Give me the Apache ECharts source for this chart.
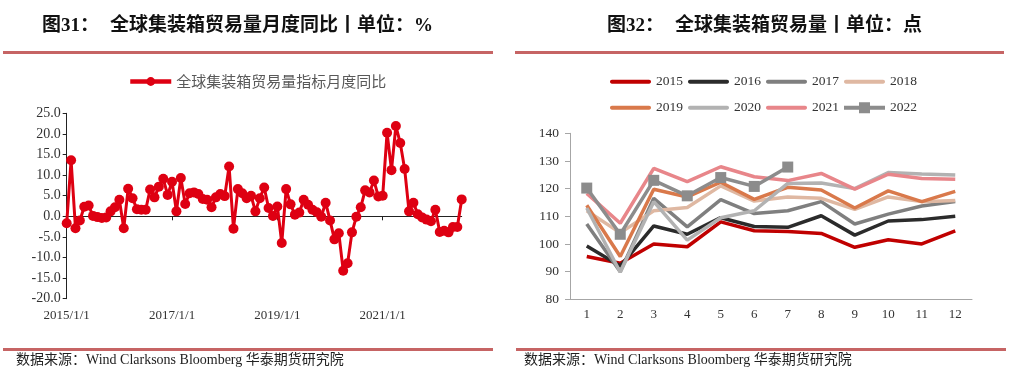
<!DOCTYPE html>
<html>
<head>
<meta charset="utf-8">
<script src="https://cdn.jsdelivr.net/npm/echarts@6/dist/echarts.min.js"></script>
<style>html,body{margin:0;padding:0;background:#fff}#main{width:1010px;height:377px}</style>
</head>
<body>
<div id="main"></div>
<script>
// 月份 2015/1/1 ~ 2022/7/1
var months=[];
for(var y=2015;y<=2022;y++){for(var m=1;m<=12;m++){if(y==2022&&m>7)break;months.push(y+'/'+m+'/1');}}
var yoyName='全球集装箱贸易量指标月度同比';
var yoy=[
-1.7,13.6,-2.9,-1.0,2.3,2.6,0.1,-0.2,-0.4,-0.3,
1.2,2.2,4.0,-2.9,6.7,4.4,1.7,1.6,1.6,6.5,
4.6,7.2,9.1,5.2,8.4,1.2,9.3,3.0,5.6,5.8,
5.4,4.2,4.0,2.2,4.6,5.4,4.9,12.1,-3.0,6.6,
5.6,4.4,5.0,1.2,4.4,7.0,2.0,0.1,2.4,-6.5,
6.6,2.9,0.4,0.9,4.0,2.8,1.6,1.0,-0.1,3.3,
-1.0,-5.6,-4.1,-13.2,-11.4,-3.9,-0.1,2.2,6.3,5.8,
8.7,4.8,5.0,20.3,11.2,21.9,17.8,11.5,1.2,3.3,
0.5,-0.3,-0.8,-1.2,1.6,-3.8,-3.5,-3.9,-2.6,-2.6,
4.1];
var yoyTicks=[-20,25,5];

var monthNo=['1','2','3','4','5','6','7','8','9','10','11','12'];
var years=['2015','2016','2017','2018','2019','2020','2021','2022'];
var v2015=[95.5,93.0,100.0,99.0,108.0,104.8,104.5,103.8,98.8,101.5,100.0,104.7];
var v2016=[99.3,92.0,106.5,103.5,109.5,106.3,106.0,110.2,103.2,108.3,108.8,110.0];
var v2017=[107.2,90.0,116.5,106.2,116.0,111.0,112.0,115.3,107.2,110.8,113.7,115.3];
var v2018=[112.0,104.0,112.0,113.2,121.0,115.5,117.0,116.5,112.5,117.0,115.3,115.7];
var v2019=[114.0,95.5,119.8,117.0,122.3,116.1,120.5,119.5,113.0,119.2,115.3,119.0];
var v2020=[113.0,89.8,115.3,101.4,109.5,112.0,121.9,122.0,120.0,125.8,125.3,124.9];
var v2021=[118.3,107.5,127.3,122.5,127.9,124.3,122.9,125.5,119.8,125.2,123.7,123.4];
var v2022=[120.2,103.5,123.0,117.4,124.0,120.8,127.8];
var volTicks=[80,140,10];

var yearData=[v2015,v2016,v2017,v2018,v2019,v2020,v2021,v2022];
var yearColors=['#c00000','#2b2b2b','#7f7f7f','#dfb8a2','#d9794b','#b2b2b2','#e8868a','#8c8c8c'];

var serif="'Liberation Serif','Noto Sans CJK SC'";
var ruleColor='#c66464';
// 图例图标：粗线 / 粗线+方块
var lineIcon='path://M2,0H39C41.7,0 41.7,4 39,4H2C-0.7,4 -0.7,0 2,0Z';
var squareIcon='path://M0,3.5H15V0H26V3.5H41V7.5H26V11H15V7.5H0Z';
var myChart=echarts.init(document.getElementById('main'));

var volSeries=years.map(function(y,i){
  return {
    name:y,type:'line',xAxisIndex:2,yAxisIndex:1,data:yearData[i],
    symbol:y=='2022'?'rect':'none',symbolSize:11,
    lineStyle:{width:3.5,color:yearColors[i]},itemStyle:{color:yearColors[i]}
  };
});

function legendRow(names,top){
  return {
    data:names.map(function(n){return {name:n,icon:n=='2022'?squareIcon:lineIcon};}),
    left:605,top:top,itemWidth:41,itemHeight:11,itemGap:5,
    textStyle:{fontFamily:serif,fontSize:13.5,color:'#333'}
  };
}

function footer(x){
  return {type:'text',left:x,top:353,style:{text:'数据来源：Wind Clarksons Bloomberg 华泰期货研究院',font:'14px '+serif,fill:'#222'}};
}

option={
  animation:false,
  graphic:[
    {type:'text',left:42,top:17,style:{text:'图31：',font:'bold 19px '+serif,fill:'#111'}},
    {type:'text',left:110,top:17,style:{text:'全球集装箱贸易量月度同比丨单位：%',font:'bold 19px '+serif,fill:'#111'}},
    {type:'text',left:607,top:17,style:{text:'图32：',font:'bold 19px '+serif,fill:'#111'}},
    {type:'text',left:675,top:17,style:{text:'全球集装箱贸易量丨单位：点',font:'bold 19px '+serif,fill:'#111'}},
    {type:'rect',shape:{x:3,y:51,width:490,height:3},style:{fill:ruleColor}},
    {type:'rect',shape:{x:515,y:51,width:489,height:3},style:{fill:ruleColor}},
    {type:'rect',shape:{x:3,y:348,width:490,height:3},style:{fill:ruleColor}},
    {type:'rect',shape:{x:516,y:348,width:490,height:3},style:{fill:ruleColor}},
    footer(16),footer(524)
  ],
  legend:[
    {data:[yoyName],left:123,top:69,itemWidth:41,itemHeight:11,
     lineStyle:{width:4.5},
     textStyle:{fontFamily:'Noto Sans CJK SC',fontSize:15,color:'#595959'}},
    legendRow(years.slice(0,4),70),
    legendRow(years.slice(4),96)
  ],
  grid:[
    {left:66.7,top:113.3,width:395,height:185.4},
    {left:570,top:133.3,width:402,height:166}
  ],
  xAxis:[
    {gridIndex:0,type:'category',data:months,boundaryGap:false,
     axisLine:{show:false,onZero:false},axisTick:{show:false},
     axisLabel:{interval:23,margin:10,fontFamily:serif,fontSize:13,color:'#333'}},
    {gridIndex:0,type:'category',data:months,boundaryGap:false,position:'bottom',
     axisLine:{onZero:true,lineStyle:{color:'#222',width:1}},
     axisTick:{interval:23,length:4,lineStyle:{color:'#222'}},axisLabel:{show:false}},
    {gridIndex:1,type:'category',data:monthNo,boundaryGap:true,
     axisLine:{lineStyle:{color:'#a6a6a6'}},axisTick:{length:5,lineStyle:{color:'#a6a6a6'}},
     axisLabel:{margin:9,fontFamily:serif,fontSize:13,color:'#333'}}
  ],
  yAxis:[
    {gridIndex:0,type:'value',min:yoyTicks[0],max:yoyTicks[1],interval:yoyTicks[2],
     splitLine:{show:false},axisLine:{show:true,lineStyle:{color:'#222'}},
     axisTick:{show:true,length:4,lineStyle:{color:'#222'}},
     axisLabel:{margin:6,fontFamily:serif,fontSize:14,color:'#333',formatter:function(v){return v.toFixed(1);}}},
    {gridIndex:1,type:'value',min:volTicks[0],max:volTicks[1],interval:volTicks[2],
     splitLine:{show:false},axisLine:{show:true,lineStyle:{color:'#a6a6a6'}},
     axisTick:{show:true,length:5,lineStyle:{color:'#a6a6a6'}},
     axisLabel:{margin:11,fontFamily:serif,fontSize:13.5,color:'#333'}}
  ],
  series:[{
    name:yoyName,type:'line',xAxisIndex:0,yAxisIndex:0,data:yoy,
    symbol:'circle',symbolSize:10,showAllSymbol:true,
    lineStyle:{width:3,color:'#de0012'},itemStyle:{color:'#de0012'}
  }].concat(volSeries)
};

myChart.setOption(option);
</script>
</body>
</html>
